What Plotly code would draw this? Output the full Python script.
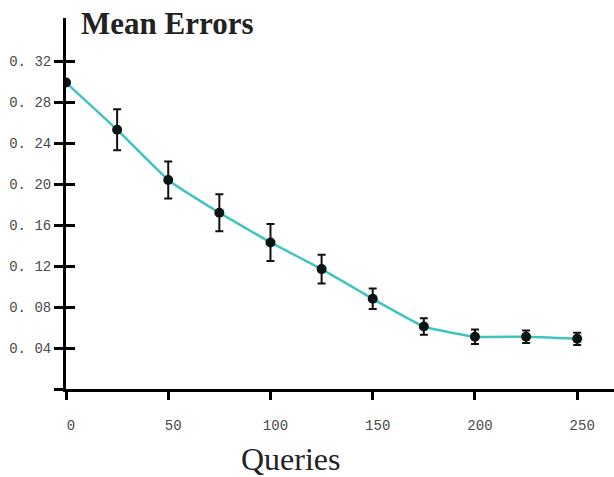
import plotly.graph_objects as go

queries = [0, 25, 50, 75, 100, 125, 150, 175, 200, 225, 250]
mean_errors = [0.299, 0.253, 0.204, 0.172, 0.143, 0.117, 0.088, 0.061, 0.051, 0.051, 0.049]
err = [0.0, 0.020, 0.018, 0.018, 0.018, 0.014, 0.010, 0.008, 0.007, 0.006, 0.006]

y_tickvals = [0, 0.04, 0.08, 0.12, 0.16, 0.20, 0.24, 0.28, 0.32]
y_ticktext = ["", "0. 04", "0. 08", "0. 12", "0. 16", "0. 20", "0. 24", "0. 28", "0. 32"]
x_tickvals = [0, 50, 100, 150, 200, 250]
x_ticktext = ["0", "50", "100", "150", "200", "250"]

fig = go.Figure()
fig.add_trace(go.Scatter(
    x=queries, y=mean_errors, mode="lines",
    line=dict(color="#3fc4c0", width=2.5, shape="spline", smoothing=0.35),
    hoverinfo="skip", showlegend=False))
fig.add_trace(go.Scatter(
    x=queries, y=mean_errors, mode="markers",
    marker=dict(color="#0a1414", size=10),
    error_y=dict(type="data", array=err, visible=True, color="#111", thickness=2, width=4),
    showlegend=False))
# invisible trace on overlay axis for inside ticks
fig.add_trace(go.Scatter(x=queries, y=mean_errors, yaxis="y2", mode="markers",
                         marker=dict(opacity=0), hoverinfo="skip", showlegend=False))

fig.update_layout(
    width=614, height=477,
    margin=dict(l=66, r=0, t=18, b=88),
    plot_bgcolor="white", paper_bgcolor="white",
    xaxis=dict(range=[0, 268], tickvals=x_tickvals, ticktext=x_ticktext,
               showgrid=False, zeroline=False, showline=True, linecolor="black", linewidth=3,
               ticks="outside", ticklen=8, tickwidth=3, tickcolor="black",
               ticklabelstandoff=13, ticklabelshift=5,
               tickfont=dict(family="Liberation Mono", size=14, color="#4a4a4a")),
    yaxis=dict(range=[0, 0.362], tickvals=y_tickvals, ticktext=y_ticktext,
               showgrid=False, zeroline=False, showline=True, linecolor="black", linewidth=3,
               ticks="outside", ticklen=9, tickwidth=3, tickcolor="black",
               tickfont=dict(family="Liberation Mono", size=14, color="#4a4a4a")),
    yaxis2=dict(range=[0, 0.362], overlaying="y", side="left", tickvals=y_tickvals,
                showticklabels=False, showgrid=False, zeroline=False, showline=False,
                ticks="inside", ticklen=9, tickwidth=3, tickcolor="black"),
    annotations=[
        dict(text="<b>Mean Errors</b>", xref="paper", yref="paper", x=0.024, y=0.984,
             xanchor="left", yanchor="middle", showarrow=False,
             font=dict(family="Liberation Serif", size=31, color="#222")),
        dict(text="Queries", xref="paper", yref="paper", x=0.41, y=-0.19,
             xanchor="center", yanchor="middle", showarrow=False,
             font=dict(family="Liberation Serif", size=32, color="#222")),
    ],
)

fig.write_html("out.html", config={"displayModeBar": False},
               post_script="document.body.style.margin='0';")
